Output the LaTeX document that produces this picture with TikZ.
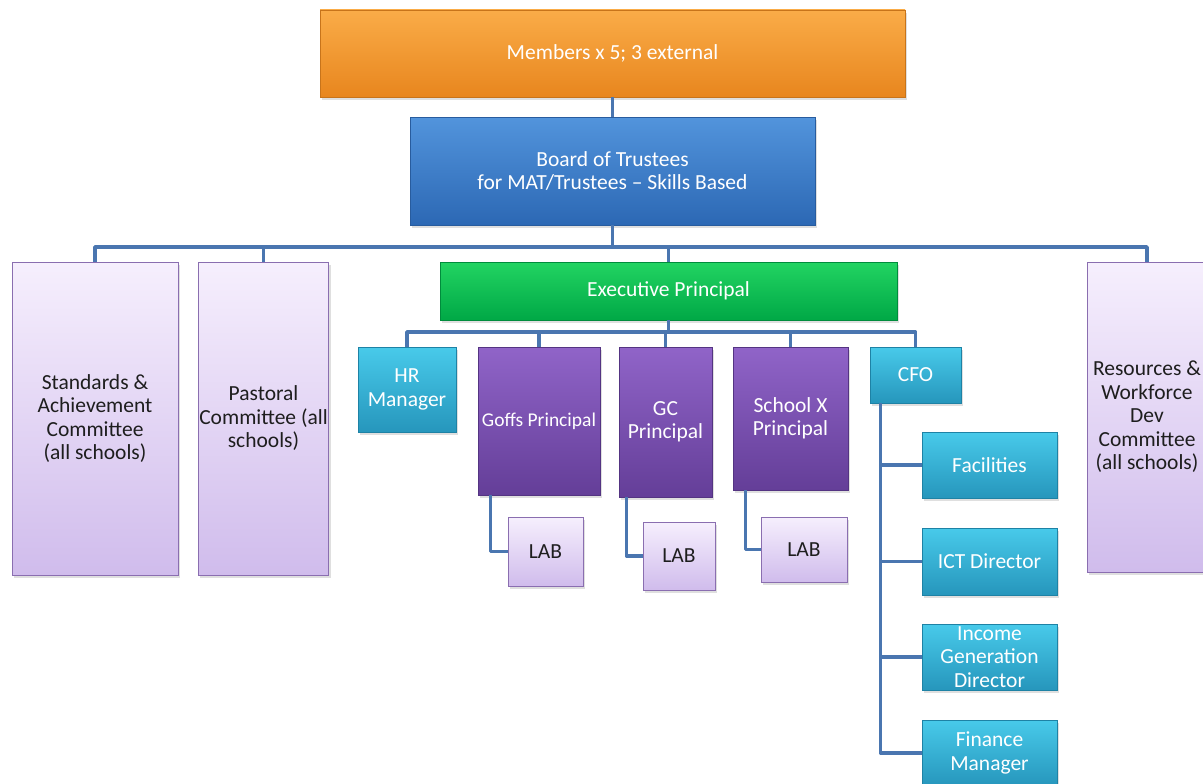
\documentclass[tikz,border=0pt]{standalone}
\usepackage{fontspec}
\setmainfont{Carlito}
\usetikzlibrary{shadows}

\definecolor{linkblue}{HTML}{4A76B0}

\begin{document}
\begin{tikzpicture}[x=1pt,y=-1pt,
  box/.style={rectangle, inner sep=1pt, align=center, line width=0.8pt,
    font=\fontsize{21.5}{23.5}\selectfont, text=white,
    drop shadow={shadow xshift=2pt, shadow yshift=-3pt, opacity=0.25}},
  orangebox/.style={box, top color={rgb,255:red,250;green,172;blue,72}, bottom color={rgb,255:red,232;green,134;blue,30}, draw={rgb,255:red,200;green,116;blue,26}},
  bluebox/.style={box, top color={rgb,255:red,82;green,148;blue,220}, bottom color={rgb,255:red,44;green,104;blue,180}, draw={rgb,255:red,40;green,92;blue,158}},
  greenbox/.style={box, top color={rgb,255:red,34;green,212;blue,98}, bottom color={rgb,255:red,0;green,168;blue,70}, draw={rgb,255:red,0;green,140;blue,60}},
  cyanbox/.style={box, top color={rgb,255:red,72;green,202;blue,234}, bottom color={rgb,255:red,38;green,150;blue,188}, draw={rgb,255:red,30;green,130;blue,165}},
  purplebox/.style={box, top color={rgb,255:red,144;green,100;blue,200}, bottom color={rgb,255:red,100;green,62;blue,152}, draw={rgb,255:red,84;green,52;blue,130}},
  lilacbox/.style={box, text={rgb,255:red,30;green,30;blue,30}, top color={rgb,255:red,246;green,239;blue,253}, bottom color={rgb,255:red,208;green,188;blue,236}, draw={rgb,255:red,138;green,110;blue,176}},
  link/.style={draw=linkblue, line width=3.6pt, line join=round}]

  \useasboundingbox (0,0) rectangle (1203,784);
  \clip (0,0) rectangle (1203,784);

  % top of the tree
  \node[orangebox, minimum width=585, minimum height=87] (members) at (612.5,53.5) {Members x 5; 3 external};
  \node[bluebox, minimum width=405, minimum height=108] (board) at (612.5,171) {Board of Trustees\\for MAT/Trustees -- Skills Based};

  % committees
  \node[lilacbox, minimum width=166, minimum height=313] (stdcom) at (95,418.5) {Standards \&\\Achievement\\Committee\\(all schools)};
  \node[lilacbox, minimum width=123, minimum height=313] (pastcom) at (263.5,418.5) {Pastoral\\Committee (all\\schools)};
  \node[lilacbox, minimum width=120, minimum height=310] (rescom) at (1147,417) {Resources \&\\Workforce\\Dev\\Committee\\(all schools)};

  \node[greenbox, minimum width=457, minimum height=58] (exec) at (668.5,291) {Executive Principal};

  % under the executive principal
  \node[cyanbox, minimum width=98, minimum height=85] (hr) at (407,389.5) {HR\\Manager};
  \node[purplebox, minimum width=122, minimum height=148, font=\fontsize{19.5}{22}\selectfont] (goffs) at (539,421) {Goffs Principal};
  \node[purplebox, minimum width=93, minimum height=150] (gc) at (665.5,422) {GC\\Principal};
  \node[purplebox, minimum width=115, minimum height=143] (schx) at (790.5,418.5) {School X\\Principal};
  \node[cyanbox, minimum width=91, minimum height=56] (cfo) at (915.5,375) {CFO};

  \node[lilacbox, minimum width=75, minimum height=69] (laba) at (545.5,551.5) {LAB};
  \node[lilacbox, minimum width=72, minimum height=68] (labb) at (679,556) {LAB};
  \node[lilacbox, minimum width=86, minimum height=65] (labc) at (804,549.5) {LAB};

  \node[cyanbox, minimum width=135, minimum height=66] (fac) at (989.5,465) {Facilities};
  \node[cyanbox, minimum width=135, minimum height=67] (ict) at (989.5,561.5) {ICT Director};
  \node[cyanbox, minimum width=135, minimum height=66] (inc) at (989.5,657) {Income\\Generation\\Director};
  \node[cyanbox, minimum width=135, minimum height=66] (fin) at (989.5,753) {Finance\\Manager};

  % connectors
  \coordinate (bus1) at (612.5,247);
  \coordinate (bus2) at (668.5,332);
  \draw[link] (members.south) -- (board.north);
  \draw[link] (board.south) -- (bus1);
  \draw[link] (stdcom.north) |- (bus1) -| (rescom.north);
  \draw[link] (pastcom.north) -- (pastcom.north |- bus1);
  \draw[link] (exec.north) -- (exec.north |- bus1);
  \draw[link] (exec.south) -- (bus2);
  \draw[link] (hr.north) |- (bus2) -| (cfo.north);
  \draw[link] (goffs.north) -- (goffs.north |- bus2);
  \draw[link] (gc.north) -- (gc.north |- bus2);
  \draw[link] (schx.north) -- (schx.north |- bus2);

  \draw[link] (goffs.south west) ++(13,0) |- (laba.west);
  \draw[link] (gc.south west) ++(8,0) |- (labb.west);
  \draw[link] (schx.south west) ++(13,0) |- (labc.west);

  \draw[link] (cfo.south west) ++(11,0) |- (fac.west);
  \draw[link] (cfo.south west) ++(11,0) |- (ict.west);
  \draw[link] (cfo.south west) ++(11,0) |- (inc.west);
  \draw[link] (cfo.south west) ++(11,0) |- (fin.west);
\end{tikzpicture}
\end{document}
